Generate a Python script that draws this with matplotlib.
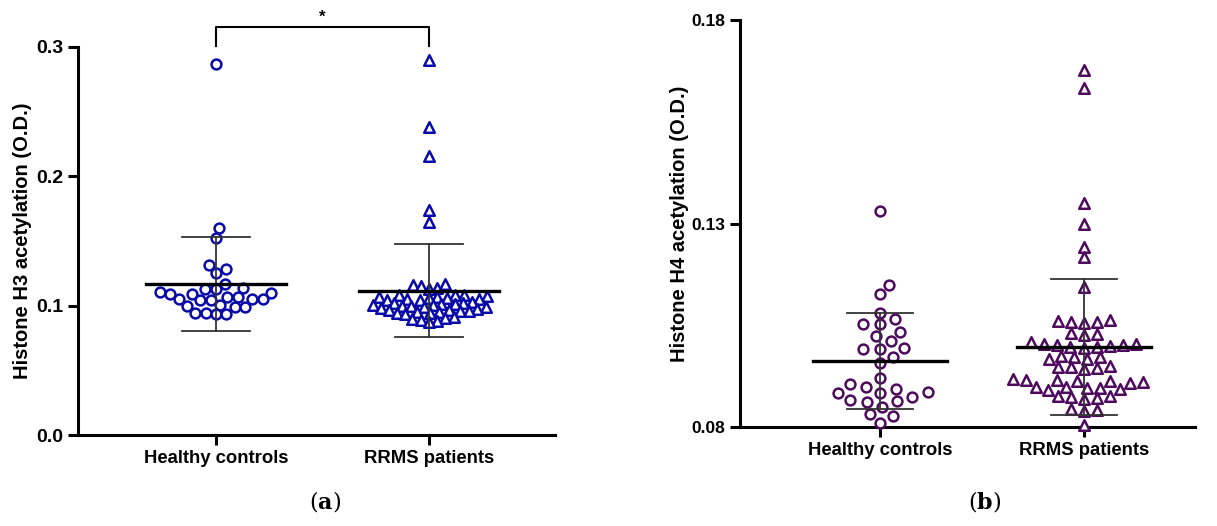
"""
Histone H3 / H4 acetylation, healthy controls vs RRMS patients
"""
import numpy as np
import matplotlib
matplotlib.use('Agg')
import matplotlib.pyplot as plt

groups = ['Healthy controls', 'RRMS patients']

# panel (a): histone H3 acetylation (O.D.)
h3_hc = [0.2865, 0.1604, 0.1527, 0.1313, 0.1280, 0.1253, 0.1171, 0.1137, 0.1130,
         0.1131, 0.1102, 0.1094, 0.1095, 0.1093, 0.1068, 0.1069, 0.1048, 0.1047,
         0.1049, 0.1048, 0.1046, 0.1009, 0.0996, 0.0986, 0.0987, 0.0947, 0.0946,
         0.0934, 0.0935]
h3_rrms = [0.2896, 0.2380, 0.2154, 0.1737, 0.1647,
           0.1166, 0.1158, 0.1150, 0.1137, 0.1126,
           0.1086, 0.1081, 0.1079, 0.1072, 0.1070, 0.1067, 0.1061, 0.1059, 0.1053,
           0.1051, 0.1047, 0.1043,
           0.1026, 0.1021, 0.1019, 0.1013, 0.1011, 0.1005, 0.1003, 0.0997, 0.0995,
           0.0989, 0.0987, 0.0982,
           0.0973, 0.0967, 0.0965, 0.0961, 0.0955, 0.0953, 0.0949, 0.0943, 0.0941,
           0.0936,
           0.0914, 0.0906, 0.0897, 0.0893, 0.0884, 0.0876]
h3_mean = [0.1168, 0.1114]
h3_sd = [0.0362, 0.0360]
h3_ticks = [0.0, 0.1, 0.2, 0.3]

# panel (b): histone H4 acetylation (O.D.)
h4_hc = [0.1331, 0.1149, 0.1127, 0.1079, 0.1052, 0.1053, 0.1065, 0.1033, 0.1024,
         0.1011, 0.0992, 0.0991, 0.0993, 0.0973, 0.0957, 0.0920, 0.0905, 0.0898,
         0.0893, 0.0883, 0.0884, 0.0885, 0.0861, 0.0864, 0.0874, 0.0866, 0.0850,
         0.0832, 0.0827, 0.0811]
h4_rrms = [0.1677, 0.1632, 0.1351, 0.1299, 0.1243, 0.1217, 0.1145,
           0.1062, 0.1060, 0.1057, 0.1059, 0.1055,
           0.1032, 0.1029, 0.1026,
           0.1008, 0.1005, 0.1003, 0.1001, 0.0999, 0.0997, 0.0996, 0.1002, 0.0994,
           0.0974, 0.0971, 0.0968, 0.0966, 0.0972,
           0.0950, 0.0947, 0.0945, 0.0943, 0.0948,
           0.0918, 0.0915, 0.0912, 0.0910, 0.0914, 0.0909, 0.0916,
           0.0899, 0.0897, 0.0895, 0.0893, 0.0898, 0.0892,
           0.0877, 0.0875, 0.0872, 0.0870, 0.0874,
           0.0845, 0.0842, 0.0839,
           0.0805]
h4_mean = [0.0962, 0.0997]
h4_sd = [0.0118, 0.0167]
h4_ticks = [0.08, 0.13, 0.18]

FONT = 'Liberation Sans'
W, H = 1217, 526


def swarm(y_px, dx, dy):
    """beeswarm: each point goes to the offset nearest 0 that keeps an
    elliptical gap (dx wide, dy tall) to the points already placed"""
    placed = []
    out = np.zeros(len(y_px))
    for i in np.argsort(y_px):
        y = y_px[i]
        cands = [0.0]
        for px, py in placed:
            r = (y - py) / dy
            if abs(r) < 1:
                off = dx * np.sqrt(1 - r * r)
                cands += [px + off, px - off]
        cands.sort(key=abs)
        for c in cands:
            if all(((c - px) / dx) ** 2 + ((y - py) / dy) ** 2 >= 1 - 1e-6 for px, py in placed):
                break
        placed.append((c, y))
        out[i] = c
    return out


def panel(fig, rect, xlim, ylim, data, means, sds, ticks, ylabel, color, tick_fmt,
          gaps, pad, tick_size):
    ax = fig.add_axes(rect)
    ax.set_xlim(*xlim)
    ax.set_ylim(*ylim)
    for side in ['top', 'right']:
        ax.spines[side].set_visible(False)
    for side in ['left', 'bottom']:
        ax.spines[side].set_linewidth(2.2)
    ax.tick_params(width=2.2, length=7, labelsize=tick_size)
    ax.set_yticks(ticks)
    ax.set_yticklabels([tick_fmt.format(t) for t in ticks], fontweight='bold', family=FONT)
    ax.set_xticks([1, 2])
    ax.set_xticklabels(groups, fontweight='bold', family=FONT, fontsize=13.3)
    ax.set_ylabel(ylabel, fontweight='bold', family=FONT, fontsize=14.5, labelpad=pad)

    fig.canvas.draw()
    x_scale = (ax.transData.transform((1, 0)) - ax.transData.transform((0, 0)))[0]
    for k, (vals, marker) in enumerate(zip(data, ['o', '^'])):
        vals = np.asarray(vals)
        y_px = ax.transData.transform(np.column_stack([np.zeros(len(vals)), vals]))[:, 1]
        xs = k + 1 + swarm(y_px, *gaps[k]) / x_scale
        ax.scatter(xs, vals, marker=marker, s=50 if marker == 'o' else 58,
                   facecolors='white', edgecolors=color, linewidths=1.8,
                   zorder=3, clip_on=False)
        m, s = means[k], sds[k]
        ax.plot([k + 1, k + 1], [m - s, m + s], color='#333333', lw=1.3, zorder=4)
        for yy in (m - s, m + s):
            ax.plot([k + 1 - 0.16, k + 1 + 0.16], [yy, yy], color='#333333', lw=1.3, zorder=4)
        ax.plot([k + 0.67, k + 1.33], [m, m], color='black', lw=2.4, zorder=5)
    return ax


fig = plt.figure(figsize=(W / 100, H / 100), dpi=100)

# (a) left panel: axis box from x=78..555 px, y=47..435 px
ax1 = panel(fig, [78 / W, 1 - 435 / H, 477 / W, 388 / H], (0.352, 2.592), (0.0, 0.3),
            [h3_hc, h3_rrms], h3_mean, h3_sd, h3_ticks,
            'Histone H3 acetylation (O.D.)', '#0a0aa8', '{:.1f}',
            [(10.5, 10.5), (8.5, 8.5)], 3, 14)

# significance bracket above panel (a)
ax1.plot([1, 1, 2, 2], [0.3004, 0.3153, 0.3153, 0.3004], color='black', lw=1.5, clip_on=False)
ax1.text(1.5, 0.3175, '*', ha='center', va='bottom', fontsize=12, fontweight='bold', family=FONT)

# (b) right panel: axis box from x=740..1195 px, y=20..427 px
ax2 = panel(fig, [740 / W, 1 - 427 / H, 455 / W, 407 / H], (0.314, 2.544), (0.08, 0.18),
            [h4_hc, h4_rrms], h4_mean, h4_sd, h4_ticks,
            'Histone H4 acetylation (O.D.)', '#4e0a5e', '{:.2f}',
            [(17.0, 10.5), (13.0, 10.5)], 2, 12.5)

for x, lab in [(325, 'a'), (985, 'b')]:
    fig.text(x / W, 1 - 502 / H, r'($\mathbf{' + lab + r'}$)', ha='center', va='center',
             fontsize=16, family='DejaVu Serif', math_fontfamily='dejavuserif')

fig.savefig('out.png', dpi=100)
